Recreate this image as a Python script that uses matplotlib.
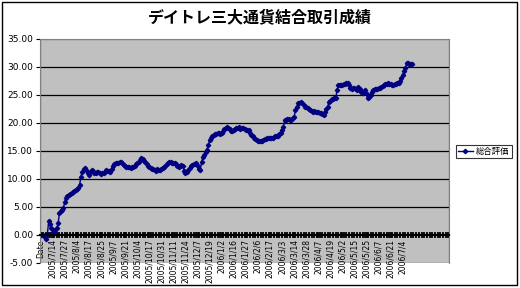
import matplotlib
matplotlib.use("Agg")
import matplotlib.pyplot as plt
from matplotlib.patches import Rectangle
from matplotlib.ticker import FormatStrFormatter

plt.rcParams['font.family'] = ['DejaVu Sans', 'Noto Sans CJK JP']

title = "デイトレ三大通貨結合取引成績"
series_name = "総合評価"

# tick labels shown every 9th row (first row is the header "Date")
date_labels = ["Date", "2005/7/14", "2005/7/27", "2005/8/4", "2005/8/17", "2005/8/25",
               "2005/9/7", "2005/9/21", "2005/10/4", "2005/10/17", "2005/10/31",
               "2005/11/11", "2005/11/24", "2005/12/7", "2005/12/19", "2006/1/2",
               "2006/1/16", "2006/1/27", "2006/2/6", "2006/2/17", "2006/3/3",
               "2006/3/14", "2006/3/28", "2006/4/7", "2006/4/19", "2006/5/2",
               "2006/5/15", "2006/5/25", "2006/6/7", "2006/6/21", "2006/7/4"]
label_step = 9

# cumulative result, one value per row
values = [
    0.0, 0.0, 0.0, -0.3, -0.8, 0.2, 2.5, 1.9, 1.2, 0.9,
    0.6, 0.9, 1.2, 2.1, 3.9, 4.2, 4.5, 4.9, 5.9, 6.6,
    7.0, 7.1, 7.3, 7.5, 7.6, 7.8, 8.0, 8.2, 8.4, 8.9,
    10.4, 11.3, 11.8, 11.9, 11.6, 11.0, 10.8, 11.2, 11.6, 11.4,
    11.1, 11.0, 11.2, 11.3, 11.1, 10.9, 11.0, 11.0, 11.3, 11.6,
    11.5, 11.4, 11.3, 11.8, 12.4, 12.6, 12.8, 12.9, 12.8, 13.0,
    13.1, 12.8, 12.5, 12.3, 12.1, 12.1, 12.2, 12.0, 12.1, 12.1,
    12.3, 12.6, 12.8, 13.1, 13.4, 13.7, 13.5, 13.2, 13.0, 12.7,
    12.4, 12.1, 12.0, 11.8, 11.7, 11.6, 11.5, 11.7, 11.6, 11.6,
    11.8, 12.0, 12.1, 12.4, 12.7, 12.9, 13.0, 13.1, 12.9, 12.8,
    12.8, 12.6, 12.3, 12.1, 12.3, 12.5, 12.3, 11.5, 11.0, 11.2,
    11.6, 12.0, 12.3, 12.5, 12.6, 12.7, 12.8, 12.3, 11.8, 11.6,
    13.0, 14.0, 14.3, 14.8, 15.2, 16.0, 17.0, 17.3, 17.6, 17.9,
    18.0, 18.1, 18.2, 18.2, 18.1, 18.2, 18.6, 19.0, 19.1, 19.2,
    19.1, 18.9, 18.6, 18.5, 18.8, 19.0, 19.1, 19.1, 19.2, 19.0,
    19.1, 19.1, 19.0, 18.8, 18.7, 18.7, 18.2, 17.8, 17.6, 17.4,
    17.2, 17.0, 16.8, 16.7, 16.7, 16.8, 17.0, 17.1, 17.2, 17.3,
    17.3, 17.3, 17.4, 17.4, 17.5, 17.6, 17.6, 17.7, 18.0, 18.2,
    18.7, 19.3, 20.5, 20.6, 20.8, 20.7, 20.5, 20.6, 20.9, 21.1,
    22.3, 22.9, 23.5, 23.6, 23.8, 23.5, 23.2, 22.9, 22.8, 22.6,
    22.5, 22.3, 22.2, 22.0, 22.1, 22.0, 22.0, 21.9, 21.8, 21.7,
    21.6, 21.4, 22.0, 22.5, 22.9, 23.8, 24.0, 24.2, 24.3, 24.4,
    24.4, 25.9, 26.8, 26.8, 26.7, 26.8, 26.9, 27.0, 27.1, 27.1,
    26.8, 26.2, 26.1, 26.2, 26.2, 26.0, 25.9, 26.5, 26.0, 25.6,
    25.3, 25.6, 25.9, 25.2, 24.4, 24.6, 25.0, 25.5, 25.9, 26.0,
    26.1, 26.1, 26.2, 26.3, 26.5, 26.6, 26.8, 26.9, 27.0, 27.1,
    27.0, 26.9, 26.8, 26.8, 26.9, 27.0, 27.1, 27.1, 27.5, 28.0,
    28.6, 29.2, 29.8, 30.7, 30.8, 30.6, 30.5, 30.5,
]
n_rows = 305  # rows in the category range (incl. empty ones at the end)

fig = plt.figure(figsize=(5.2, 2.88), dpi=100)
ax = fig.add_axes([40 / 520, 1 - 263 / 288, 409 / 520, 224 / 288])
ax.set_facecolor("#c0c0c0")

ax.plot(range(len(values)), values, color="#000080", lw=1.0,
        marker="D", ms=2.2, mec="#000080", mfc="#000080", label=series_name)

ax.set_xlim(-0.5, n_rows - 0.5)
ax.set_ylim(-5, 35)
ax.set_yticks(range(-5, 36, 5))
ax.yaxis.set_major_formatter(FormatStrFormatter("%.2f"))
for y in range(5, 35, 5):
    ax.axhline(y, color="black", lw=0.9, zorder=1)

for s in ("top", "right", "left"):
    ax.spines[s].set_color("#808080")
ax.spines["bottom"].set_position(("data", 0))
ax.spines["bottom"].set_color("black")
ax.spines["bottom"].set_linewidth(1.6)
ax.spines["bottom"].set_zorder(3)
# gray plot-area frame at the bottom
ax.add_patch(Rectangle((0, 0), 1, 1, transform=ax.transAxes, fill=False,
                       ec="#808080", lw=1, zorder=0.5))

ax.set_xticks(range(0, len(date_labels) * label_step, label_step))
ax.set_xticklabels(date_labels, rotation=90, fontsize=5.5, va="top", ha="center")
ax.set_xticks(range(0, n_rows, 2), minor=True)
ax.tick_params(axis="x", which="both", direction="inout", length=4, width=1.3,
               pad=1, color="black")
ax.tick_params(axis="y", direction="out", length=3, labelsize=6.5, pad=2)

fig.text(0.5, 1 - 17 / 288, title, ha="center", va="center", fontsize=11.5,
         fontweight="bold", family=["Noto Sans CJK JP"])

leg = ax.legend(loc="center", bbox_to_anchor=(483.5 / 520, 1 - 151.5 / 288),
                bbox_transform=fig.transFigure, fontsize=6, frameon=True,
                fancybox=False, handlelength=1.8, borderpad=0.25,
                handletextpad=0.4, prop={"family": ["Noto Sans CJK JP"], "size": 6})
leg.get_frame().set_edgecolor("black")
leg.get_frame().set_linewidth(0.8)

fig.patches.append(Rectangle((2 / 520, 3 / 288), 515 / 520, 283 / 288,
                             transform=fig.transFigure, fill=False,
                             ec="black", lw=1))

fig.savefig("out.png", dpi=100)
